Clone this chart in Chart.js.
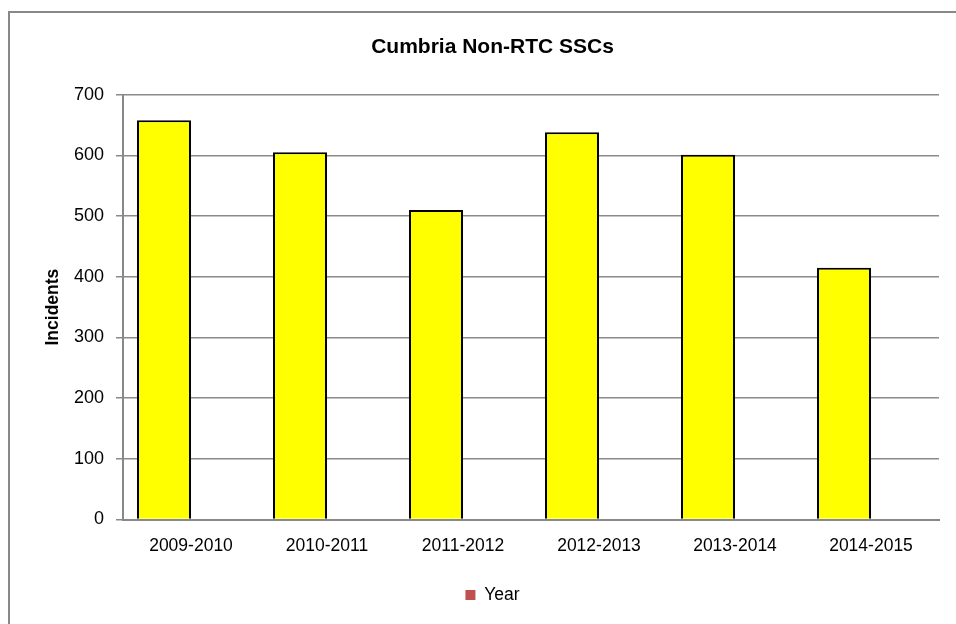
<!DOCTYPE html>
<html>
<head>
<meta charset="utf-8">
<script src="https://cdn.jsdelivr.net/npm/chart.js@4"></script>
<style>
html,body{margin:0;padding:0;background:#fff;}
#wrap{width:956px;height:624px;}
</style>
</head>
<body>
<div id="wrap"><canvas id="c" width="956" height="624"></canvas></div>
<script>
const categories = ['2009-2010','2010-2011','2011-2012','2012-2013','2013-2014','2014-2015'];
const incidents = [658, 605, 510, 638, 601, 415];
const yearSeries = [null, null, null, null, null, null];
const chartTitle = 'Cumbria Non-RTC SSCs';
const yAxisTitle = 'Incidents';
const yMin = 0, yMax = 700, yStep = 100;

const FONT = '"Liberation Sans", Arial, sans-serif';

const framePlugin = {
  id: 'frame',
  beforeDraw(chart) {
    const ctx = chart.ctx;
    ctx.save();
    ctx.fillStyle = '#fff';
    ctx.fillRect(0, 0, chart.width, chart.height);
    ctx.strokeStyle = '#888888';
    ctx.lineWidth = 2;
    ctx.strokeRect(9, 12, 1200, 1200);
    ctx.restore();
  }
};

new Chart(document.getElementById('c'), {
  type: 'bar',
  data: {
    labels: categories,
    datasets: [
      {
        label: 'Incidents',
        data: incidents,
        backgroundColor: '#FFFF00',
        borderColor: '#000000',
        borderWidth: 2,
        categoryPercentage: 0.794,
        barPercentage: 1.0
      },
      {
        label: 'Year',
        data: yearSeries,
        backgroundColor: '#C0504D',
        borderColor: '#C0504D',
        borderWidth: 0,
        categoryPercentage: 0.794,
        barPercentage: 1.0
      }
    ]
  },
  options: {
    responsive: false,
    animation: false,
    devicePixelRatio: 1,
    layout: { padding: { left: 46, right: 17, top: 0, bottom: 10.25 } },
    plugins: {
      title: {
        display: true,
        text: chartTitle,
        color: '#000',
        font: { family: FONT, size: 21, weight: 'bold', lineHeight: 1.2 },
        padding: { top: 34.4, bottom: 35.1 }
      },
      legend: {
        display: true,
        position: 'bottom',
        labels: {
          filter: (item) => item.datasetIndex === 1,
          color: '#000',
          font: { family: FONT, size: 17.5 },
          boxWidth: 10,
          boxHeight: 10,
          padding: 6
        }
      },
      tooltip: { enabled: false }
    },
    scales: {
      x: {
        grid: { display: false, drawTicks: false },
        border: { display: true, color: '#888888', width: 2 },
        ticks: { color: '#000', font: { family: FONT, size: 17.5 }, padding: 16, maxRotation: 0 },
        afterFit(scale) { scale.height = 60.75; }
      },
      y: {
        min: yMin,
        max: yMax,
        ticks: { stepSize: yStep, color: '#000', font: { family: FONT, size: 18 }, padding: 12 },
        grid: { color: '#8a8a8a', lineWidth: 1.5, tickLength: 7, drawTicks: true },
        border: { display: true, color: '#888888', width: 2 },
        title: {
          display: true,
          text: yAxisTitle,
          color: '#000',
          font: { family: FONT, size: 17.5, weight: 'bold', lineHeight: 0.8 },
          padding: { top: 0, bottom: 0 }
        },
        afterFit(scale) { scale.width = 77; }
      }
    }
  },
  plugins: [framePlugin]
});
</script>
</body>
</html>
